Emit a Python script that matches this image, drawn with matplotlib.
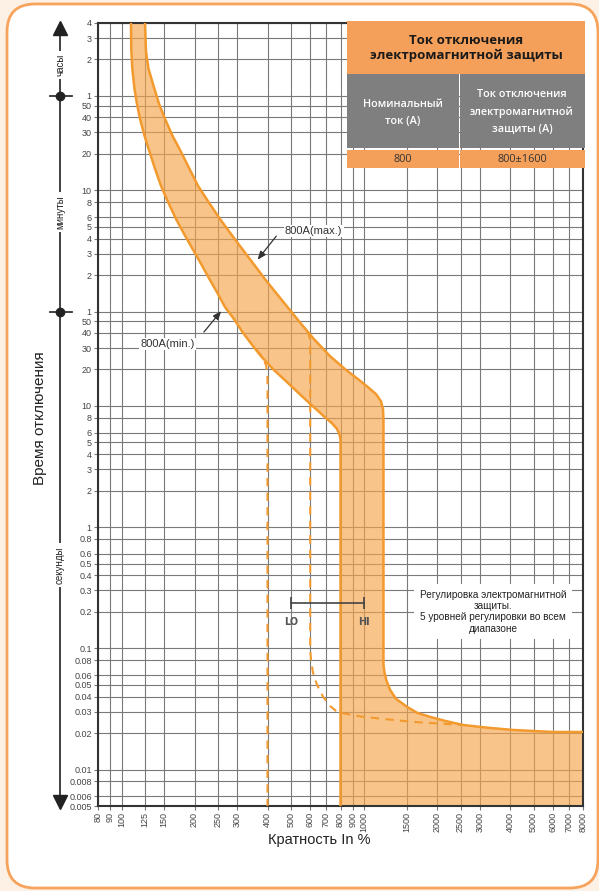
import matplotlib
matplotlib.use("Agg")
import matplotlib.pyplot as plt
import matplotlib.transforms as mtransforms
from matplotlib.lines import Line2D
from matplotlib.patches import FancyBboxPatch, Rectangle
from matplotlib.ticker import NullLocator

W, H = 599, 891

# current multiple (% of In) and trip time (s)
x_ticks = [80, 90, 100, 125, 150, 200, 250, 300, 400, 500, 600, 700, 800, 900,
           1000, 1500, 2000, 2500, 3000, 4000, 5000, 6000, 7000, 8000]
sec_ticks = [0.005, 0.006, 0.008, 0.01, 0.02, 0.03, 0.04, 0.05, 0.06, 0.08, 0.1,
             0.2, 0.3, 0.4, 0.5, 0.6, 0.8, 1, 2, 3, 4, 5, 6, 8, 10, 20, 30, 40, 50]
min_ticks = [1, 2, 3, 4, 5, 6, 8, 10, 20, 30, 40, 50]
hour_ticks = [1, 2, 3, 4]

# 800A (min.) curve
min_x = [109.4, 109.7, 110.8, 113.1, 115.8, 119.2, 124.4, 130.5, 137.5, 145.5,
         155.5, 167.8, 179.3, 193.4, 210.7, 230.6, 250.0, 267.2, 291.0, 315.5,
         343.6, 376.0, 421.4, 481.4, 555.0, 634.0, 690.6, 737.9, 770.2, 790.2,
         800, 800, 800]
min_t = [14400, 8850, 6054, 4130, 3105, 2334, 1690, 1247, 902, 653,
         481, 348, 272, 208, 154, 111, 83.6, 65.3, 52, 40.6,
         32.3, 25.7, 20.1, 15.7, 12.0, 9.4, 8.05, 7.18, 6.53, 5.93,
         5.3, 4.37, 0.005]

# 800A (max.) curve
max_x = [125.0, 126.2, 129.2, 135.5, 142.8, 151.1, 162.3, 175.9, 190.7, 206.8,
         228.4, 254.8, 278.8, 308.1, 345.3, 390.6, 454.7, 502.5, 560.4, 622.0,
         724.2, 835.3, 944.8, 1039, 1121, 1175, 1197.5, 1203, 1203, 1215,
         1238, 1280, 1355, 1504, 1654, 1871, 2157, 2561, 3246, 4115, 6016, 8000]
max_t = [14400, 8357, 6054, 4375, 3105, 2334, 1690, 1247, 902, 653,
         481, 348, 272, 208, 154, 111, 76, 59.4, 45.5, 35.5,
         25.7, 20.1, 16.6, 14.25, 12.5, 10.9, 9.4, 7.74, 0.0732, 0.0629,
         0.054, 0.0455, 0.0383, 0.0329, 0.0294, 0.0272, 0.0252, 0.0233, 0.0221, 0.0212,
         0.0204, 0.0204]

# LO setting branches (dashed)
lo400_x = [360, 383, 395, 400, 400]
lo400_t = [29, 25, 21.5, 17, 0.005]
lo600_x = [585, 596, 600, 600, 605, 616, 640, 678, 724, 774, 850, 990, 1593, 2561]
lo600_t = [41, 37, 33, 0.097, 0.08, 0.063, 0.05, 0.0398, 0.0335, 0.0299, 0.0287,
           0.0272, 0.0247, 0.0233]

# adjustment range bar
adj_x = [500, 1000]
adj_t = 0.238

orange = "#f29a2e"
fill_c = "#f5a54a"
grey_txt = "#444444"

fig = plt.figure(figsize=(W / 100, H / 100), dpi=100)
fig.patch.set_facecolor("#fdf0e4")

def px(x, y):
    return x / W, 1 - y / H

# rounded white card
card = FancyBboxPatch((0.07, 0.03), 5.91, 8.84,
                      boxstyle="round,pad=0,rounding_size=0.28",
                      transform=fig.dpi_scale_trans, facecolor="white",
                      edgecolor="#f7a35c", linewidth=2, zorder=-5)
fig.add_artist(card)

ax = fig.add_axes([98 / W, 1 - 806 / H, (583 - 98) / W, (806 - 23) / H])
ax.set_xscale("log")
ax.set_yscale("log")
ax.set_xlim(80, 8000)
ax.set_ylim(0.005, 14400)

# fill between the two curves
fill_x = min_x + [8000] + max_x[::-1]
fill_t = min_t + [0.005] + max_t[::-1]
ax.fill(fill_x, fill_t, color=fill_c, alpha=0.65, lw=0, zorder=1)
ax.plot(min_x, min_t, color=orange, lw=1.8, zorder=3, solid_joinstyle="round")
ax.plot(max_x, max_t, color=orange, lw=1.8, zorder=3, solid_joinstyle="round")
ax.plot(lo400_x, lo400_t, color=orange, lw=1.5, ls=(0, (4, 3)), zorder=3)
ax.plot(lo600_x, lo600_t, color=orange, lw=1.5, ls=(0, (4, 3)), zorder=3)

# ticks and grid
y_vals = sec_ticks + [m * 60 for m in min_ticks] + [h * 3600 for h in hour_ticks]
y_labels = [f"{v:g}" for v in sec_ticks] + [f"{v:g}" for v in min_ticks] + [f"{v:g}" for v in hour_ticks]
ax.set_yticks(y_vals)
ax.set_yticklabels(y_labels)
ax.set_xticks(x_ticks)
ax.set_xticklabels([str(v) for v in x_ticks], rotation=90)
ax.xaxis.set_minor_locator(NullLocator())
ax.yaxis.set_minor_locator(NullLocator())
ax.tick_params(axis="both", length=3, width=0.8, color="#777777", pad=1.5,
               labelsize=6.5, labelcolor=grey_txt)
for lab in ax.get_xticklabels() + ax.get_yticklabels():
    lab.set_family("Liberation Sans")
ax.grid(True, color="#7a7a7a", lw=0.8)
ax.set_axisbelow(True)
for sp in ax.spines.values():
    sp.set_color("#333333")
    sp.set_linewidth(1.5)

# curve labels
ax.text(472, 277, "800A(max.)", fontsize=8, family="Liberation Sans", color="#333333",
        ha="left", va="center", zorder=4,
        bbox=dict(facecolor="white", edgecolor="none", pad=1))
ax.annotate("", xy=(358, 154), xytext=(442, 262),
            arrowprops=dict(arrowstyle="-|>,head_length=0.5,head_width=0.2",
                            color="#333333", lw=0.9), zorder=4)
ax.text(201, 32.3, "800A(min.)", fontsize=8, family="Liberation Sans", color="#333333",
        ha="right", va="center", zorder=4,
        bbox=dict(facecolor="white", edgecolor="none", pad=1))
ax.annotate("", xy=(262, 63), xytext=(215, 39),
            arrowprops=dict(arrowstyle="-|>,head_length=0.5,head_width=0.2",
                            color="#333333", lw=0.9), zorder=4)

# LO / HI range
ax.plot(adj_x, [adj_t, adj_t], color="#444444", lw=1.2, marker="|", ms=8, mew=1.2, zorder=4)
ax.text(adj_x[0], 0.166, "LO", fontsize=7, weight="bold", color="#555555",
        ha="center", va="center", zorder=4)
ax.text(adj_x[1], 0.166, "HI", fontsize=7, weight="bold", color="#555555",
        ha="center", va="center", zorder=4)
ax.text(3400, 0.2, "Регулировка электромагнитной\nзащиты.\n5 уровней регулировки во всем\nдиапазоне",
        fontsize=7.2, family="Liberation Sans", color="#222222", ha="center", va="center",
        linespacing=1.15, zorder=4,
        bbox=dict(facecolor="white", edgecolor="none", pad=4))

# time scale on the left
tr = mtransforms.blended_transform_factory(fig.transFigure, ax.transData)
sx = 60 / W
fig.add_artist(Line2D([sx, sx], [1 - 30 / H, 1 - 800 / H], transform=fig.transFigure,
                      color="#333333", lw=1.3))
fig.add_artist(Line2D([sx], [1 - 28 / H], transform=fig.transFigure, marker="^",
                      ms=10, color="#222222", ls="none"))
fig.add_artist(Line2D([sx], [1 - 802 / H], transform=fig.transFigure, marker="v",
                      ms=10, color="#222222", ls="none"))
for t in (60, 3600):
    fig.add_artist(Line2D([50 / W, 72 / W], [t, t], transform=tr, color="#333333", lw=1.3))
    fig.add_artist(Line2D([sx], [t], transform=tr, marker="o", ms=6, color="#222222", ls="none"))
for label, yy in (("часы", 65), ("минуты", 212), ("секунды", 565)):
    fig.text(*px(60, yy), label, rotation=90, ha="center", va="center", fontsize=7,
             family="Liberation Sans", color="#222222",
             bbox=dict(facecolor="white", edgecolor="none", pad=2))

fig.text(*px(40, 418), "Время отключения", rotation=90, ha="center", va="center",
         fontsize=11, family="Liberation Sans", color="#222222")
fig.text(*px(319, 840), "Кратность In %", ha="center", va="center",
         fontsize=10.5, family="Liberation Sans", color="#222222")

# table in the upper right
tab_orange = "#f5a05a"
tab_grey = "#7f7f80"
cells = [
    (347, 21, 585, 74, tab_orange),
    (347, 74, 459, 148, tab_grey),
    (460, 74, 585, 148, tab_grey),
    (347, 150, 459, 168, tab_orange),
    (460, 150, 585, 168, tab_orange),
]
for x0, y0, x1, y1, c in cells:
    fig.add_artist(Rectangle(px(x0, y1), (x1 - x0) / W, (y1 - y0) / H,
                             transform=fig.transFigure, facecolor=c, edgecolor="none", zorder=2))
fig.text(*px(466, 48), "Ток отключения\nэлектромагнитной защиты", ha="center", va="center",
         fontsize=9.5, weight="bold", family="Open Sans", color="#1a1a1a",
         linespacing=1.25, zorder=3)
fig.text(*px(403, 113), "Номинальный\nток (A)", ha="center", va="center",
         fontsize=7.8, family="Open Sans", weight="semibold", color="white",
         linespacing=1.7, zorder=3)
fig.text(*px(522, 112), "Ток отключения\nэлектромагнитной\nзащиты (A)", ha="center",
         va="center", fontsize=7.8, family="Open Sans", weight="semibold", color="white",
         linespacing=1.7, zorder=3)
fig.text(*px(403, 159), "800", ha="center", va="center", fontsize=7.8,
         family="Open Sans", color="#333333", zorder=3)
fig.text(*px(522, 159), "800±1600", ha="center", va="center", fontsize=7.8,
         family="Open Sans", color="#333333", zorder=3)

fig.savefig("out.png", dpi=100, facecolor=fig.get_facecolor())
